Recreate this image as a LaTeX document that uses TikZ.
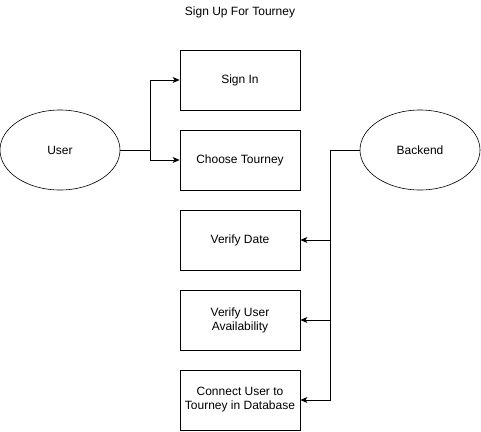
\documentclass[tikz,border=0pt]{standalone}
\usepackage{fontspec}
\setmainfont{Liberation Sans}
\usetikzlibrary{shapes.geometric,arrows.meta}
\begin{document}
\begin{tikzpicture}[x=1pt,y=-1pt,
  every node/.style={font=\fontsize{12}{14}\selectfont},
  box/.style={draw,line width=0.8pt,minimum width=120pt,minimum height=60pt,align=center,inner sep=2pt},
  oval/.style={draw,ellipse,line width=0.6pt,minimum width=120pt,minimum height=80pt,inner sep=0pt},
  conn/.style={line width=0.8pt,-{Stealth[length=7pt,width=6pt,inset=2pt]}}]
\useasboundingbox[fill=white] (0,0) rectangle (481,431);
\node (title) at (240,12) {Sign Up For Tourney};
\node[box] (signin) at (240,80) {Sign In};
\node[box] (choose) at (240,160) {Choose Tourney};
\node[box] (date) at (240,240) {Verify Date};
\node[box] (avail) at (240,320) {Verify User\\Availability};
\node[box] (connect) at (240,400) {Connect User to\\Tourney in Database};
\node[oval] (user) at (60,150) {User};
\node[oval] (backend) at (420,150) {Backend};
\coordinate (uj) at (150,150);
\coordinate (bj) at (330,150);
\draw[line width=0.8pt] (user.east) -- (uj);
\draw[conn] (uj) |- (signin.west);
\draw[conn] (uj) |- (choose.west);
\draw[line width=0.8pt] (backend.west) -- (bj);
\draw[conn] (bj) |- (date.east);
\draw[conn] (bj) |- (avail.east);
\draw[conn] (bj) |- (connect.east);
\end{tikzpicture}
\end{document}
